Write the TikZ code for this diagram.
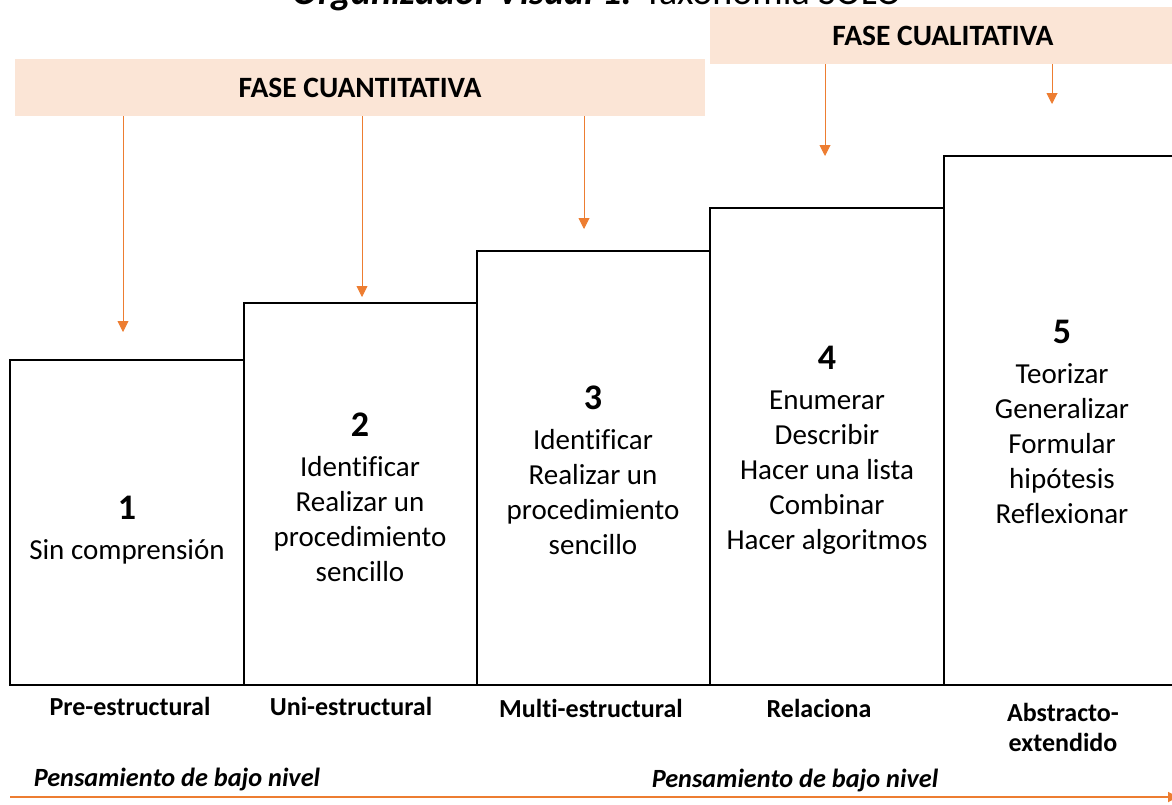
\documentclass[tikz,border=0pt]{standalone}
\usepackage{fontspec}
\setmainfont{Carlito}[Ligatures=NoCommon]
\usetikzlibrary{arrows.meta}
\definecolor{bandfill}{HTML}{FBE5D6}
\definecolor{orng}{HTML}{ED7D31}
\begin{document}
\begin{tikzpicture}[x=1pt,y=-1pt,
  stepbox/.style={draw=black, line width=1.6pt, fill=white, inner sep=0pt, minimum width=#1},
  band/.style={fill=bandfill, draw=none, inner sep=0pt, minimum height=57pt, font=\fontsize{29.5}{34}\selectfont\bfseries},
  arr/.style={draw=orng, line width=0.9pt, -{Triangle[width=11pt,length=11pt]}},
  num/.style={anchor=base, inner sep=0pt, font=\fontsize{36}{42}\selectfont\bfseries},
  body/.style={anchor=base, inner sep=0pt, font=\fontsize{29}{35}\selectfont},
  lvl/.style={anchor=base, inner sep=0pt, font=\fontsize{26}{30}\selectfont\bfseries},
  think/.style={anchor=base, inner sep=0pt, font=\fontsize{26.3}{30}\selectfont\bfseries\itshape}]
\useasboundingbox (0,0) rectangle (1172,804);

% title (cut off at top, as in the reference)
\node[anchor=base, inner sep=0pt, font=\fontsize{38}{44}\selectfont] (title) at (597,4)
  {\bfseries\itshape Organizador Visual 1:\mdseries\upshape{} Taxonomía SOLO};

% bands
\node[band, minimum width=690pt] (qband) at (360,87.5) {FASE CUANTITATIVA};
\node[band, minimum width=466pt] (lband) at (943,35.5) {FASE CUALITATIVA};

% step boxes
\node[stepbox=234pt, minimum height=325pt] (b1) at (127,522.5) {};
\node[stepbox=233pt, minimum height=382pt] (b2) at (360.5,494) {};
\node[stepbox=233pt, minimum height=434pt] (b3) at (593.5,468) {};
\node[stepbox=234pt, minimum height=477pt] (b4) at (827,446.5) {};
\node[stepbox=240pt, minimum height=529pt] (b5) at (1064,420.5) {};

% arrows from bands
\coordinate (a1) at (123,332);
\coordinate (a2) at (362,297);
\coordinate (a3) at (584,229);
\coordinate (a4) at (825,156);
\coordinate (a5) at (1052,104);
\draw[arr] (qband.south -| a1) -- (a1);
\draw[arr] (qband.south -| a2) -- (a2);
\draw[arr] (qband.south -| a3) -- (a3);
\draw[arr] (lband.south -| a4) -- (a4);
\draw[arr] (lband.south -| a5) -- (a5);

% box texts
\node[num] (n1) at (127,519) {1};
\node[body] (t1a) at (127,559) {Sin comprensión};

\node[num] (n2) at (360,436) {2};
\foreach \t [count=\i] in {Identificar,Realizar un,procedimiento,sencillo}
  \node[body] (t2-\i) at (360,{476+35*(\i-1)}) {\t};

\node[num] (n3) at (593,409) {3};
\foreach \t [count=\i] in {Identificar,Realizar un,procedimiento,sencillo}
  \node[body] (t3-\i) at (593,{449+35*(\i-1)}) {\t};

\node[num] (n4) at (827,369) {4};
\foreach \t [count=\i] in {Enumerar,Describir,Hacer una lista,Combinar,Hacer algoritmos}
  \node[body] (t4-\i) at (827,{409+35*(\i-1)}) {\t};

\node[num] (n5) at (1062,343) {5};
\foreach \t [count=\i] in {Teorizar,Generalizar,Formular,hipótesis,Reflexionar}
  \node[body] (t5-\i) at (1062,{383+35*(\i-1)}) {\t};

% level labels
\node[lvl] (l1) at (130,715) {Pre-estructural};
\node[lvl] (l2) at (351,715) {Uni-estructural};
\node[lvl] (l3) at (591,717) {Multi-estructural};
\node[lvl] (l4) at (819,717) {Relaciona};
\node[lvl] (l5a) at (1063,721) {Abstracto-};
\node[lvl] (l5b) at (1063,751) {extendido};

% thinking labels and bottom arrow
\node[think] (p1) at (177,786) {Pensamiento de bajo nivel};
\node[think] (p2) at (795,787) {Pensamiento de bajo nivel};
\coordinate (s) at (10,797);
\coordinate (e) at (1178,797);
\draw[draw=orng, line width=1.8pt, -{Triangle[width=10pt,length=10pt]}] (s) -- (e);
\end{tikzpicture}
\end{document}
